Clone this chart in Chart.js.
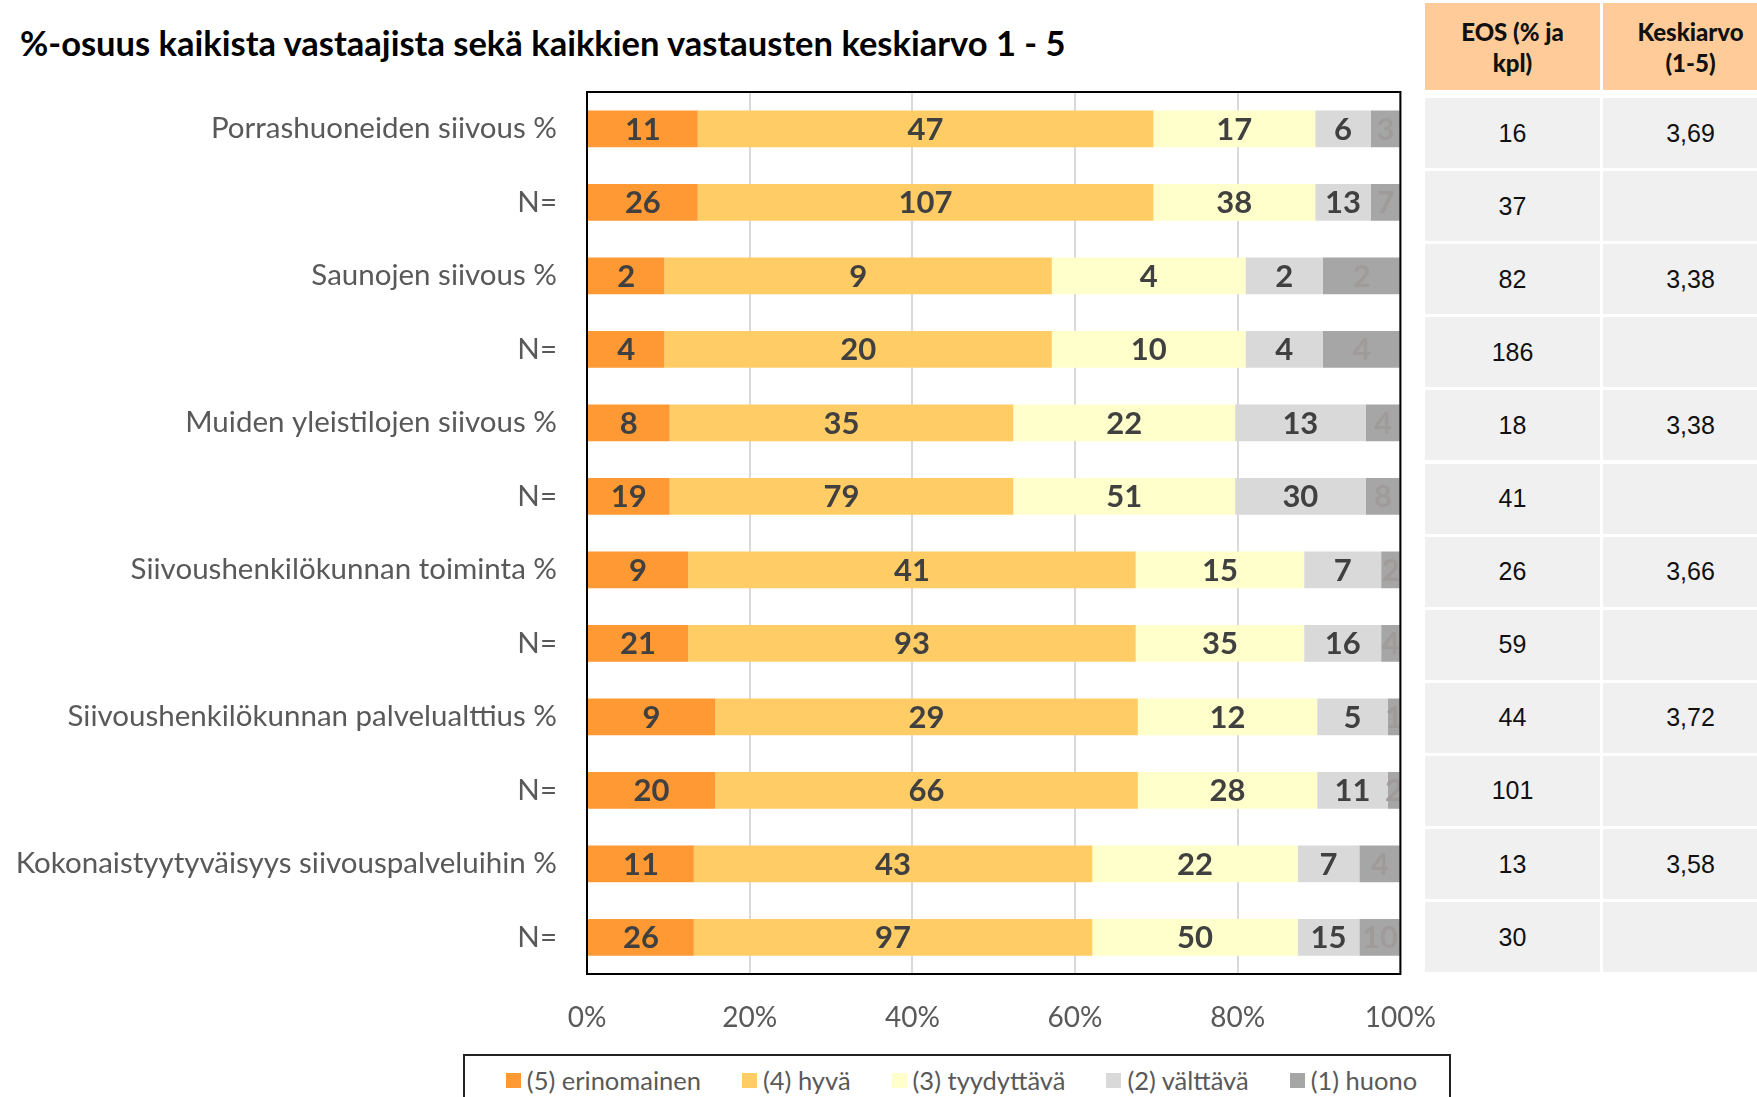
<!DOCTYPE html>
<html lang="fi">
<head>
<meta charset="utf-8">
<title>Siivouspalvelut</title>
<script src="https://cdn.jsdelivr.net/npm/chart.js@4.4.0/dist/chart.umd.min.js"></script>
<style>
  body { margin: 0; width: 1757px; height: 1097px; overflow: hidden; background: #fff; position: relative; font-family: Lato, sans-serif; }
  #title { position: absolute; left: 20px; top: 23px; font: bold 34.5px Lato, sans-serif; line-height: 40px; color: #000; white-space: nowrap; }
  #chartBox { position: absolute; left: 0; top: 0; }
  .cell { position: absolute; display: flex; align-items: center; justify-content: center; text-align: center; }
  .head { background: #FFCC99; font: 900 24px Lato, sans-serif; line-height: 31px; color: #111; }
  .data { background: #F0F0F0; font: 25px "Liberation Sans", Arial, sans-serif; color: #111; }
  #legend { position: absolute; left: 463px; top: 1054px; width: 988px; height: 60px; border: 2px solid #222;
            display: flex; justify-content: center; align-items: flex-start; padding-top: 9px; padding-left: 9px; box-sizing: border-box; }
  .item { display: flex; align-items: center; margin: 0 20.5px; font: 25.5px Lato, sans-serif; color: #595959; }
  .sw { width: 15px; height: 15px; margin-right: 6px; }
</style>
</head>
<body>
<div id="title">%-osuus kaikista vastaajista sekä kaikkien vastausten keskiarvo 1 - 5</div>
<div id="chartBox"><canvas id="bars" width="1463" height="1045"></canvas></div>
<div id="table"></div>
<div id="legend"></div>

<script>
// kysymykset
const topics = [
    'Porrashuoneiden siivous %',
    'Saunojen siivous %',
    'Muiden yleistilojen siivous %',
    'Siivoushenkilökunnan toiminta %',
    'Siivoushenkilökunnan palvelualttius %',
    'Kokonaistyytyväisyys siivouspalveluihin %'
];
const seriesNames = ['(5) erinomainen', '(4) hyvä', '(3) tyydyttävä', '(2) välttävä', '(1) huono'];
const seriesColors = ['#FF9933', '#FFCC66', '#FFFFCC', '#D9D9D9', '#A6A6A6'];

// % kaikista vastaajista
const pct5 = [11, 2, 8, 9, 9, 11];
const pct4 = [47, 9, 35, 41, 29, 43];
const pct3 = [17, 4, 22, 15, 12, 22];
const pct2 = [6, 2, 13, 7, 5, 7];
const pct1 = [3, 2, 4, 2, 1, 4];

// kpl (N=)
const n5 = [26, 4, 19, 21, 20, 26];
const n4 = [107, 20, 79, 93, 66, 97];
const n3 = [38, 10, 51, 35, 28, 50];
const n2 = [13, 4, 30, 16, 11, 15];
const n1 = [7, 4, 8, 4, 2, 10];

// EOS ja keskiarvo
const eosPct = [16, 82, 18, 26, 44, 13];
const eosN = [37, 186, 41, 59, 101, 30];
const means = ['3,69', '3,38', '3,38', '3,66', '3,72', '3,58'];

const xTicks = [0, 20, 40, 60, 80, 100];

const pctSeries = [pct5, pct4, pct3, pct2, pct1];
const nSeries = [n5, n4, n3, n2, n1];

// rivit: kysymys % ja N= vuorotellen
const rowLabels = [];
topics.forEach(t => { rowLabels.push(t); rowLabels.push('N='); });

// 100 % pinottu: osuudet lasketaan vastausmääristä
const totals = topics.map((t, i) => nSeries.reduce((s, arr) => s + arr[i], 0));

const datasets = seriesNames.map((name, s) => {
    const data = [];
    const labels = [];
    topics.forEach((t, i) => {
        const share = nSeries[s][i] / totals[i] * 100;
        data.push(share); labels.push(pctSeries[s][i]);
        data.push(share); labels.push(nSeries[s][i]);
    });
    return {
        label: name,
        data: data,
        valueLabels: labels,
        backgroundColor: seriesColors[s],
        borderWidth: 0,
        categoryPercentage: 0.5,
        barPercentage: 1.0
    };
});

const segmentLabels = {
    id: 'segmentLabels',
    afterDatasetsDraw(chart) {
        const ctx = chart.ctx;
        const area = chart.chartArea;
        ctx.save();
        ctx.beginPath();
        ctx.rect(area.left, area.top, area.right - area.left, area.bottom - area.top);
        ctx.clip();
        ctx.font = 'bold 31px Lato, sans-serif';
        ctx.textAlign = 'center';
        ctx.textBaseline = 'middle';
        chart.data.datasets.forEach((ds, di) => {
            const meta = chart.getDatasetMeta(di);
            ctx.fillStyle = di === 4 ? '#A09B9B' : '#404040';
            meta.data.forEach((bar, i) => {
                ctx.fillText(String(ds.valueLabels[i]), (bar.x + bar.base) / 2, bar.y + 1);
            });
        });
        ctx.restore();
    }
};

const plotBorder = {
    id: 'plotBorder',
    afterDraw(chart) {
        const a = chart.chartArea;
        const ctx = chart.ctx;
        ctx.save();
        ctx.strokeStyle = '#000';
        ctx.lineWidth = 2;
        ctx.strokeRect(a.left, a.top, a.right - a.left, a.bottom - a.top);
        ctx.restore();
    }
};

new Chart(document.getElementById('bars').getContext('2d'), {
    type: 'bar',
    data: { labels: rowLabels, datasets: datasets },
    options: {
        indexAxis: 'y',
        responsive: false,
        animation: false,
        layout: { padding: { top: 92, right: 19, left: 0, bottom: 0 } },
        plugins: { legend: { display: false }, tooltip: { enabled: false } },
        scales: {
            x: {
                stacked: true,
                min: 0,
                max: 100,
                afterBuildTicks: (scale) => { scale.ticks = xTicks.map(v => ({ value: v })); },
                ticks: { callback: v => v + '%', color: '#595959', font: { family: 'Lato', size: 28 }, padding: 27 },
                grid: { color: '#D9D9D9', lineWidth: 2, drawTicks: false },
                border: { display: false },
                afterFit: (scale) => { scale.height = 71; }
            },
            y: {
                stacked: true,
                ticks: { color: '#595959', font: { family: 'Lato', size: 29.5 }, padding: 30 },
                grid: { display: false, drawTicks: false },
                border: { display: false },
                afterFit: (scale) => { scale.width = 587; }
            }
        }
    },
    plugins: [segmentLabels, plotBorder]
});

// taulukko oikealla
const table = document.getElementById('table');
function addCell(cls, left, top, w, h, html) {
    const d = document.createElement('div');
    d.className = 'cell ' + cls;
    d.style.left = left + 'px'; d.style.top = top + 'px';
    d.style.width = w + 'px'; d.style.height = h + 'px';
    d.innerHTML = html;
    table.appendChild(d);
}
addCell('head', 1425, 3, 175, 87, 'EOS (% ja<br>kpl)');
addCell('head', 1603, 3, 175, 87, 'Keskiarvo<br>(1-5)');
topics.forEach((t, i) => {
    const y1 = 98 + (2 * i) * 73.1;
    const y2 = 98 + (2 * i + 1) * 73.1;
    addCell('data', 1425, y1, 175, 70, eosPct[i]);
    addCell('data', 1603, y1, 175, 70, means[i]);
    addCell('data', 1425, y2, 175, 70, eosN[i]);
    addCell('data', 1603, y2, 175, 70, '');
});

// selite
const legend = document.getElementById('legend');
seriesNames.forEach((name, s) => {
    const it = document.createElement('div');
    it.className = 'item';
    it.innerHTML = '<span class="sw" style="background:' + seriesColors[s] + '"></span>' + name;
    legend.appendChild(it);
});
</script>
</body>
</html>
